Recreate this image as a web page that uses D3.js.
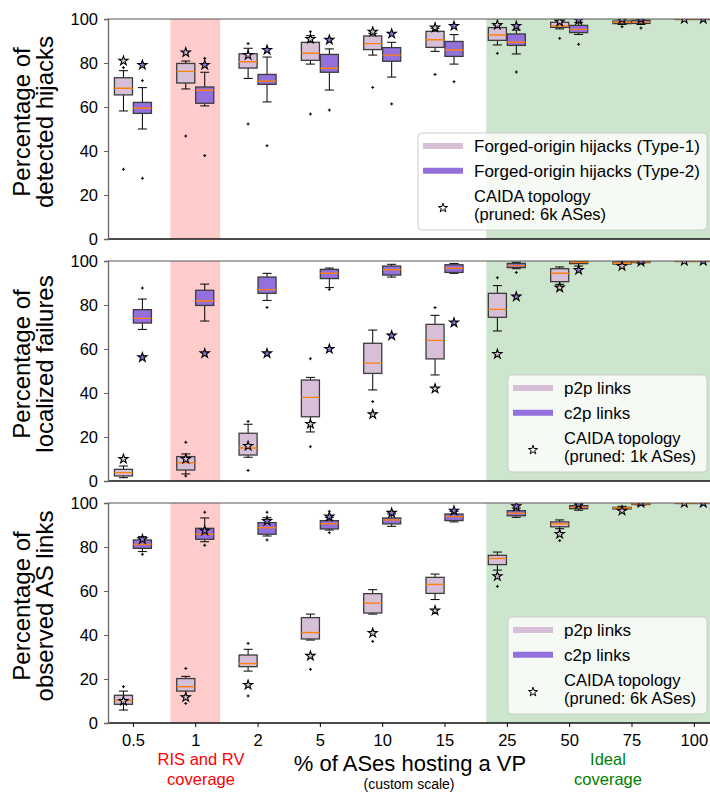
<!DOCTYPE html>
<html>
<head>
<meta charset="utf-8">
<script src="https://cdn.jsdelivr.net/npm/d3@7"></script>
<style>
  body { margin: 0; background: #fff; }
  svg { display: block; font-family: "Liberation Sans", Arial, sans-serif; }
</style>
</head>
<body>
<svg id="chart" width="710" height="792"></svg>
<script>
// x categories (% of ASes hosting a VP, custom scale)
const categories = ["0.5", "1", "2", "5", "10", "15", "25", "50", "75", "100"];

// box stats per category: [whisker low, q1, median, q3, whisker high]
const hijackType1Box = [
  [58.2, 65.5, 68.5, 73.3, 76.5], [68.2, 70.9, 76.2, 79.8, 80.9], [73, 77.7, 80.6, 84.2, 86.7],
  [79.5, 81.2, 84.4, 89.4, 92.4], [83.6, 86.1, 88.8, 92.3, 93.5], [85.3, 87.1, 90.6, 94.4, 95.8],
  [88.2, 90.3, 92.7, 96.1, 97.3], [95.5, 96.2, 96.8, 98.5, 99.2], [97.5, 97.9, 98.5, 99.1, 99.8],
  [100, 100, 100, 100, 100]
];
const hijackType1Fliers = [[31.7, 77.9], [46.8], [52.3, 88.8], [56.8, 94.2], [68.9], [74.8], [84.4], [91.2], [96.5], []];
const hijackType1Caida = [81, 84.8, 83.6, 90.9, 94.2, 96.1, 97.3, 98.8, 100, 100];

const hijackType2Box = [
  [50, 57.1, 59.4, 62.1, 68.8], [60.5, 61.7, 67.6, 69.1, 75.8], [62.3, 70.3, 71.7, 74.8, 82.7],
  [67.7, 75.8, 77.6, 83.9, 86.4], [73.6, 80.8, 83.6, 87, 89.4], [79.5, 83, 85.9, 89.8, 92.9],
  [84.1, 88, 89.4, 93.2, 95], [93, 93.8, 95.3, 97.1, 98.5], [97.5, 98, 98.6, 99.4, 99.8],
  [100, 100, 100, 100, 100]
];
const hijackType2Fliers = [[27.6, 72], [37.9, 82.1], [42.4], [58.6], [61.4], [71.5], [75.9], [88.5], [95.9], []];
const hijackType2Caida = [79.1, 79.1, 85.9, 90.5, 93.3, 96.8, 96.8, 99.5, 100, 100];

const failureP2pBox = [
  [1.5, 2.3, 3.8, 5.3, 6.8], [3.2, 5, 8.3, 11.1, 12.3], [10.8, 11.8, 15, 21.7, 25.8],
  [22.3, 29.2, 38, 45.9, 47.1], [41.4, 48.9, 53.6, 62.6, 68.6], [48.2, 55.5, 63.9, 71.2, 75.3],
  [68.2, 74.4, 78, 85.3, 88.8], [89.4, 90.6, 94.4, 96.5, 97.3], [98, 98.6, 99, 99.6, 100],
  [100, 100, 100, 100, 100]
];
const failureP2pFliers = [[], [2.3, 17.6], [4.8, 27.1], [15.6, 55.6], [36.1], [78.8], [92.4], [], [], []];
const failureP2pCaida = [10, 10, 15.9, 25.9, 30.3, 42, 57.7, 87.9, 97.7, 100];

const failureC2pBox = [
  [68.9, 71.8, 73.9, 77.9, 82.7], [72.7, 79.8, 81.8, 86.7, 89.5], [82.1, 85.3, 87, 92.7, 94.4],
  [87.9, 92, 94.4, 96.2, 96.8], [92.7, 93.6, 96, 97.7, 98.5], [94.4, 94.8, 96.7, 98.3, 98.9],
  [96.5, 97, 97.9, 98.9, 99.4], [97.7, 98.8, 99.4, 99.7, 100], [99, 99.3, 99.6, 99.8, 100],
  [100, 100, 100, 100, 100]
];
const failureC2pFliers = [[87.7], [], [78.9], [87.1], [], [], [94.8], [], [], []];
const failureC2pCaida = [56.2, 58, 58, 60, 66.1, 72, 83.8, 95.9, 99.7, 100];

const linkP2pBox = [
  [5.9, 8.5, 10.2, 12.6, 14.5], [12.3, 14.5, 16.5, 20.2, 21.2], [23.6, 25.6, 27, 30.9, 33.5],
  [37.7, 38.2, 41.1, 47.9, 49.5], [49.5, 50, 54.5, 58.8, 60.6], [56.1, 58.9, 63, 66.2, 67.7],
  [69.5, 72, 74.8, 76.2, 77.7], [88.3, 89.2, 90.5, 91.4, 92.3], [96.8, 97.3, 97.7, 98, 98.5],
  [100, 100, 100, 100, 100]
];
const linkP2pFliers = [[16.5], [8.9, 24.8], [12.3, 36.2], [24.4], [37.1], [], [62.1], [82.9], [], []];
const linkP2pCaida = [10, 11.7, 17.3, 30.5, 40.9, 51.1, 66.7, 85.9, 96.5, 100];

const linkC2pBox = [
  [77.9, 79.4, 81.2, 83.2, 84.7], [82.4, 83.5, 85.8, 88.5, 93.2], [85, 85.8, 88.8, 91.1, 93.3],
  [87.7, 88.2, 90.6, 92, 93.5], [89.4, 90.5, 92.3, 93.2, 95], [91.4, 92, 93.8, 95, 96.2],
  [93.5, 94.2, 95.3, 96.5, 97.7], [96.7, 97.4, 98, 98.8, 99.4], [99, 99.3, 99.6, 99.8, 100],
  [100, 100, 100, 100, 100]
];
const linkC2pFliers = [[76.7], [80.8, 95.8], [83.2, 95.8], [86.5, 96.2], [], [], [], [], [], []];
const linkC2pCaida = [83.5, 87.4, 91.8, 93.8, 95.5, 96.5, 98.5, 99.5, 100, 100];

const yTicks = [0, 20, 40, 60, 80, 100];
const lightColor = "#d8bfd8", darkColor = "#9370db";

const panels = [
  { label: ["Percentage of", "detected hijacks"],
    series: [
      { box: hijackType1Box, fliers: hijackType1Fliers, caida: hijackType1Caida, color: lightColor, name: "Forged-origin hijacks (Type-1)" },
      { box: hijackType2Box, fliers: hijackType2Fliers, caida: hijackType2Caida, color: darkColor, name: "Forged-origin hijacks (Type-2)" }],
    pruned: "(pruned: 6k ASes)", legendX: 418 },
  { label: ["Percentage of", "localized failures"],
    series: [
      { box: failureP2pBox, fliers: failureP2pFliers, caida: failureP2pCaida, color: lightColor, name: "p2p links" },
      { box: failureC2pBox, fliers: failureC2pFliers, caida: failureC2pCaida, color: darkColor, name: "c2p links" }],
    pruned: "(pruned: 1k ASes)", legendX: 508 },
  { label: ["Percentage of", "observed AS links"],
    series: [
      { box: linkP2pBox, fliers: linkP2pFliers, caida: linkP2pCaida, color: lightColor, name: "p2p links" },
      { box: linkC2pBox, fliers: linkC2pFliers, caida: linkC2pCaida, color: darkColor, name: "c2p links" }],
    pruned: "(pruned: 6k ASes)", legendX: 508 }
];

const panelTops = [19, 261, 503];
const panelH = 220;
const left = 108, right = 712.5;

const svg = d3.select("#chart");
const x = d3.scaleLinear().domain([-0.4, 9.3]).range([left, right]);
const y = d3.scaleLinear().domain([0, 100]).range([panelH, 0]);
const boxW = x(0.29) - x(0);
const offsets = [-0.152, 0.152];
const star = d3.symbol().type(d3.symbolStar).size(26);

panels.forEach(function(p, pi) {
  const g = svg.append("g").attr("transform", `translate(0, ${panelTops[pi]})`);

  g.append("clipPath").attr("id", "clip" + pi)
    .append("rect").attr("x", left).attr("y", 0).attr("width", right - left).attr("height", panelH);
  const plot = g.append("g").attr("clip-path", `url(#clip${pi})`);

  // coverage spans
  plot.append("rect").attr("x", x(0.6)).attr("y", 0)
    .attr("width", x(1.4) - x(0.6)).attr("height", panelH).attr("fill", "#ffcccc");
  plot.append("rect").attr("x", x(5.67)).attr("y", 0)
    .attr("width", right - x(5.67)).attr("height", panelH).attr("fill", "#cce5cc");

  p.series.forEach(function(s, si) {
    s.box.forEach(function(b, i) {
      const cx = x(i + offsets[si]);
      const bg = plot.append("g");
      // whiskers + caps
      bg.append("line").attr("x1", cx).attr("x2", cx).attr("y1", y(b[0])).attr("y2", y(b[1]))
        .attr("stroke", "#000").attr("stroke-width", 1);
      bg.append("line").attr("x1", cx).attr("x2", cx).attr("y1", y(b[3])).attr("y2", y(b[4]))
        .attr("stroke", "#000").attr("stroke-width", 1);
      [b[0], b[4]].forEach(function(v) {
        bg.append("line").attr("x1", cx - boxW / 4).attr("x2", cx + boxW / 4)
          .attr("y1", y(v)).attr("y2", y(v)).attr("stroke", "#000").attr("stroke-width", 1);
      });
      bg.append("rect").attr("x", cx - boxW / 2).attr("y", y(b[3]))
        .attr("width", boxW).attr("height", Math.max(y(b[1]) - y(b[3]), 0.5))
        .attr("fill", s.color).attr("stroke", "#3c3c3c").attr("stroke-width", 1.3);
      bg.append("line").attr("x1", cx - boxW / 2).attr("x2", cx + boxW / 2)
        .attr("y1", y(b[2])).attr("y2", y(b[2]))
        .attr("stroke", "#ff7f0e").attr("stroke-width", 1.4);
      s.fliers[i].forEach(function(v) {
        bg.append("path").attr("d", `M${cx - 1.5},${y(v)}H${cx + 1.5}M${cx},${y(v) - 1.5}V${y(v) + 1.5}`)
          .attr("stroke", "#000").attr("stroke-width", 1);
      });
    });
  });

  // CAIDA stars on top
  p.series.forEach(function(s, si) {
    plot.selectAll(null).data(s.caida).join("path")
      .attr("d", star)
      .attr("transform", (d, i) => `translate(${x(i + offsets[si])}, ${y(d)})`)
      .attr("fill", s.color).attr("stroke", "#000").attr("stroke-width", 1.1);
  });

  // spines
  g.append("line").attr("x1", left).attr("x2", 710).attr("y1", 0).attr("y2", 0)
    .attr("stroke", "#555").attr("stroke-width", 1.2);
  g.append("line").attr("x1", left).attr("x2", 710).attr("y1", panelH).attr("y2", panelH)
    .attr("stroke", "#111").attr("stroke-width", 1.3);

  const yAxis = g.append("g").attr("transform", `translate(${left},0)`)
    .call(d3.axisLeft(y).tickValues(yTicks).tickSize(4).tickPadding(6));
  yAxis.select(".domain").attr("stroke", "#666").attr("stroke-width", 1.3);
  yAxis.selectAll(".tick line").attr("stroke", "#666");
  yAxis.selectAll("text").attr("font-size", 16.5).attr("fill", "#000")
    .attr("font-family", "Liberation Sans, Arial, sans-serif");

  if (pi === 2) {
    const xAxis = g.append("g").attr("transform", `translate(0,${panelH})`)
      .call(d3.axisBottom(x).tickValues(d3.range(categories.length))
        .tickFormat(i => categories[i]).tickSize(4).tickPadding(7));
    xAxis.select(".domain").remove();
    xAxis.selectAll(".tick line").attr("stroke", "#000");
    xAxis.selectAll("text").attr("font-size", 16.5).attr("fill", "#000")
      .attr("font-family", "Liberation Sans, Arial, sans-serif");
  }

  // y label
  const lab = g.append("text")
    .attr("transform", `translate(0, ${panelH / 2 - 7}) rotate(-90)`)
    .attr("text-anchor", "middle").attr("font-size", 24).attr("fill", "#000");
  lab.append("tspan").attr("x", 0).attr("y", 30).text(p.label[0]);
  lab.append("tspan").attr("x", 0).attr("y", 53).text(p.label[1]);

  // legend
  const lx = p.legendX, ly = panelH - 9 - 97;
  const lg = g.append("g").attr("transform", `translate(${lx},${ly})`);
  lg.append("rect").attr("width", 707 - lx).attr("height", 97).attr("rx", 4)
    .attr("fill", "#fff").attr("fill-opacity", 0.8).attr("stroke", "#cccccc").attr("stroke-width", 1);
  p.series.forEach(function(s, si) {
    const ey = 13 + si * 24.7;
    lg.append("line").attr("x1", 5).attr("x2", 45).attr("y1", ey).attr("y2", ey)
      .attr("stroke", s.color).attr("stroke-width", 6);
    lg.append("text").attr("x", 56).attr("y", ey + 6).attr("font-size", 17).attr("fill", "#000").text(s.name);
  });
  lg.append("path").attr("d", star).attr("transform", "translate(25, 75)")
    .attr("fill", "#fff").attr("stroke", "#000").attr("stroke-width", 1);
  lg.append("text").attr("x", 56).attr("y", 69).attr("font-size", 16.5).attr("fill", "#000").text("CAIDA topology");
  lg.append("text").attr("x", 56).attr("y", 87).attr("font-size", 16.5).attr("fill", "#000").text(p.pruned);
});

// bottom annotations
const notes = svg.append("g").attr("text-anchor", "middle");
notes.append("text").attr("x", 410).attr("y", 771).attr("font-size", 22).text("% of ASes hosting a VP");
notes.append("text").attr("x", 409).attr("y", 788.5).attr("font-size", 14).text("(custom scale)");
notes.append("text").attr("x", 201).attr("y", 765).attr("font-size", 16.5).attr("fill", "#ff0000").text("RIS and RV");
notes.append("text").attr("x", 201).attr("y", 785).attr("font-size", 16.5).attr("fill", "#ff0000").text("coverage");
notes.append("text").attr("x", 608).attr("y", 765).attr("font-size", 16.5).attr("fill", "#008000").text("Ideal");
notes.append("text").attr("x", 608).attr("y", 785).attr("font-size", 16.5).attr("fill", "#008000").text("coverage");
</script>
</body>
</html>
